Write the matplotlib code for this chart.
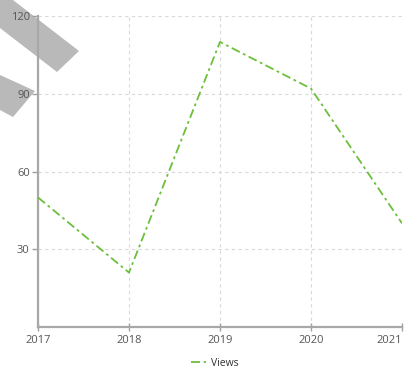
import matplotlib
matplotlib.use("Agg")
import matplotlib.pyplot as plt
from matplotlib.patches import Polygon

years = [2017, 2018, 2019, 2020, 2021]
views = [50, 21, 110, 92, 40]
y_ticks = [30, 60, 90, 120]

plt.rcParams['font.family'] = ['Open Sans', 'DejaVu Sans']

fig = plt.figure(figsize=(4.04, 3.68), dpi=100)
ax = fig.add_axes([38 / 404, 1 - 327 / 368, 364 / 404, 311 / 368])
ax.set_facecolor('none')
ax.set_zorder(2)

# grey ribbons behind the plot area (pixel coords, y from the top)
ribbons = [
    [(13, 0), (79, 51), (57, 72), (0, 28), (0, -10)],
    [(0, 75), (35, 91), (13, 117), (0, 110)],
]
for pts in ribbons:
    xy = [(x / 404, 1 - y / 368) for x, y in pts]
    fig.patches.append(Polygon(xy, closed=True, transform=fig.transFigure,
                               facecolor='#b9b9b9', edgecolor='none', zorder=0))

ax.plot(years, views, color='#6cbf3a', linestyle=(0, (5, 2, 1.5, 2)),
        linewidth=1.3, label='Views', zorder=3)

ax.set_xlim(2017, 2021)
ax.set_ylim(0, 120)
ax.set_xticks(years)
ax.set_yticks(y_ticks)

ax.grid(True, color='#d9d9d9', linestyle=(0, (3, 3)), linewidth=0.8)
for side in ['top', 'right']:
    ax.spines[side].set_visible(False)
for side in ['left', 'bottom']:
    ax.spines[side].set_color('#a8a8a8')
    ax.spines[side].set_linewidth(1.6)

ax.tick_params(axis='both', colors='#a0a0a0', labelcolor='#555555',
               labelsize=8, length=4, width=1)
ax.tick_params(axis='x', direction='inout', length=6, pad=3)
ax.tick_params(axis='y', pad=2)

# keep the last year label inside the figure
ax.get_xticklabels()[-1].set_horizontalalignment('right')

fig.legend(*ax.get_legend_handles_labels(), loc='center',
           bbox_to_anchor=(215 / 404, 1 - 363 / 368), frameon=False,
           fontsize=7.5, handlelength=1.4, handletextpad=0.5,
           labelcolor='#333333')

fig.savefig('out.png', dpi=100)
